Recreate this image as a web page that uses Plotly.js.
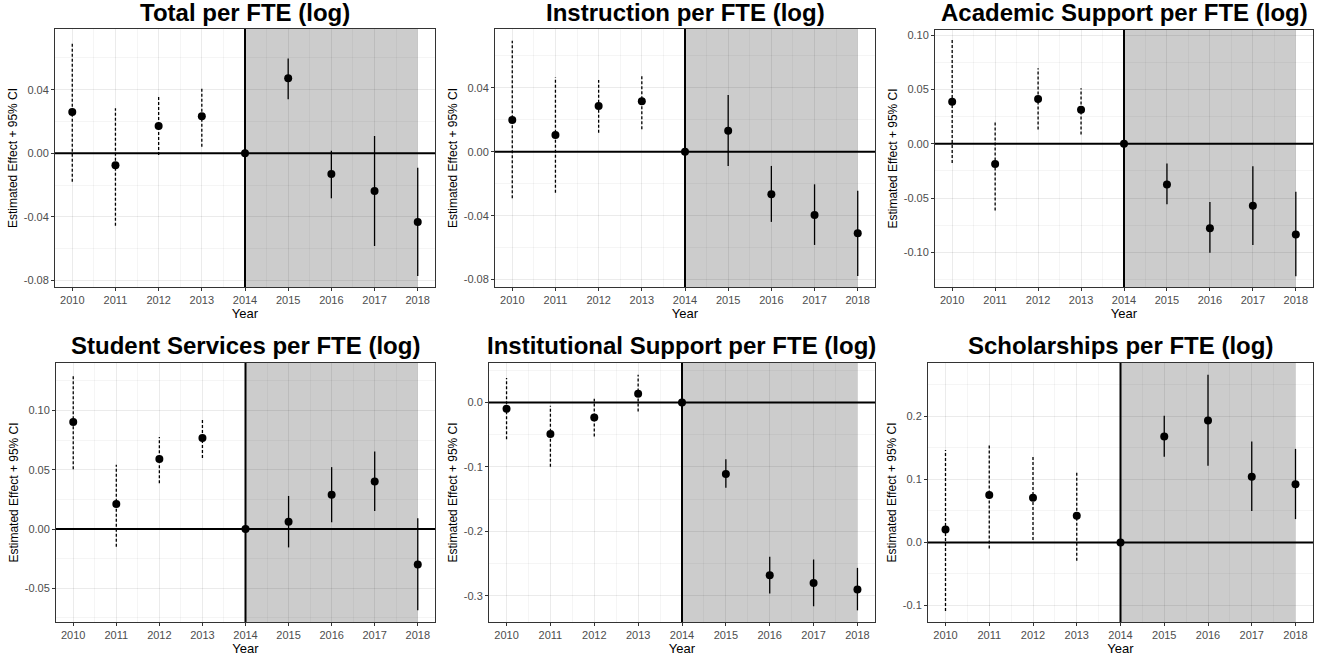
<!DOCTYPE html>
<html>
<head>
<meta charset="utf-8">
<script src="https://cdn.plot.ly/plotly-3.0.1.min.js"></script>
<style>html,body{margin:0;padding:0;background:#fff;}#chart{width:1327px;height:659px;}</style>
</head>
<body>
<div id="chart"></div>
<script>
// ---------------- data ----------------
const years = [2010, 2011, 2012, 2013, 2014, 2015, 2016, 2017, 2018];
const treatmentYear = 2014;
const lastYear = 2018;

const titles = [
  'Total per FTE (log)',
  'Instruction per FTE (log)',
  'Academic Support per FTE (log)',
  'Student Services per FTE (log)',
  'Institutional Support per FTE (log)',
  'Scholarships per FTE (log)'
];

const totalEst = [0.026, -0.0075, 0.0172, 0.0233, 0, 0.0472, -0.013, -0.0237, -0.0432];
const totalLo  = [-0.0179, -0.0455, -0.001, 0.0042, 0, 0.034, -0.0283, -0.0583, -0.0772];
const totalHi  = [0.069, 0.0283, 0.036, 0.0419, 0, 0.0597, 0.0016, 0.0109, -0.0091];

const instrEst = [0.0198, 0.0104, 0.0286, 0.0315, 0, 0.0131, -0.0266, -0.0396, -0.051];
const instrLo  = [-0.0291, -0.0256, 0.0119, 0.014, 0, -0.0089, -0.0439, -0.0583, -0.0777];
const instrHi  = [0.0694, 0.0465, 0.0448, 0.0473, 0, 0.0354, -0.0089, -0.0204, -0.0244];

const acadEst = [0.0389, -0.0185, 0.0413, 0.0315, 0, -0.0374, -0.0778, -0.0571, -0.0837];
const acadLo  = [-0.0176, -0.0615, 0.0132, 0.0086, 0, -0.0556, -0.1004, -0.0932, -0.122];
const acadHi  = [0.0959, 0.0209, 0.0697, 0.0512, 0, -0.0182, -0.0537, -0.0207, -0.0442];

const studEst = [0.0903, 0.0212, 0.059, 0.0767, 0, 0.0062, 0.0288, 0.040, -0.0299];
const studLo  = [0.0505, -0.015, 0.0387, 0.0598, 0, -0.0155, 0.0057, 0.0152, -0.0685];
const studHi  = [0.130, 0.0541, 0.0776, 0.0928, 0, 0.0279, 0.0522, 0.0654, 0.009];

const instEst = [-0.0098, -0.0487, -0.0233, 0.0135, 0, -0.1109, -0.268, -0.28, -0.2902];
const instLo  = [-0.057, -0.0995, -0.0529, -0.014, 0, -0.1322, -0.2964, -0.3162, -0.3225];
const instHi  = [0.038, -0.0051, 0.0058, 0.0431, 0, -0.088, -0.2395, -0.2436, -0.2566];

const scholEst = [0.0207, 0.0752, 0.0709, 0.0423, 0, 0.1679, 0.1933, 0.1043, 0.0922];
const scholLo  = [-0.1087, -0.0095, 0.0037, -0.0292, 0, 0.1361, 0.1218, 0.0498, 0.037];
const scholHi  = [0.1467, 0.1547, 0.1361, 0.1123, 0, 0.2008, 0.266, 0.16, 0.1484];

// y tick values and labels
const ticksA = [-0.08, -0.04, 0, 0.04];
const ticksAText = ['-0.08', '-0.04', '0.00', '0.04'];
const ticksB = [-0.10, -0.05, 0, 0.05, 0.10];
const ticksBText = ['-0.10', '-0.05', '0.00', '0.05', '0.10'];
const ticksC = [-0.05, 0, 0.05, 0.10];
const ticksCText = ['-0.05', '0.00', '0.05', '0.10'];
const ticksD = [-0.3, -0.2, -0.1, 0.0];
const ticksDText = ['-0.3', '-0.2', '-0.1', '0.0'];
const ticksE = [-0.1, 0.0, 0.1, 0.2];
const ticksEText = ['-0.1', '0.0', '0.1', '0.2'];

// ---------------- layout config ----------------
const W = 1327, H = 659;
const panels = [
  {est: totalEst, lo: totalLo, hi: totalHi, tv: ticksA, tt: ticksAText, yr: [-0.0841, 0.0782], px: [55, 435], py: [29, 287]},
  {est: instrEst, lo: instrLo, hi: instrHi, tv: ticksA, tt: ticksAText, yr: [-0.0846, 0.0767], px: [495, 875], py: [29, 287]},
  {est: acadEst, lo: acadLo, hi: acadHi, tv: ticksB, tt: ticksBText, yr: [-0.132, 0.105], px: [935, 1313], py: [30, 287]},
  {est: studEst, lo: studLo, hi: studHi, tv: ticksC, tt: ticksCText, yr: [-0.0784, 0.140], px: [56, 435], py: [363, 622]},
  {est: instEst, lo: instLo, hi: instHi, tv: ticksD, tt: ticksDText, yr: [-0.3406, 0.0613], px: [489, 875], py: [363, 622]},
  {est: scholEst, lo: scholLo, hi: scholHi, tv: ticksE, tt: ticksEText, yr: [-0.1262, 0.2846], px: [928, 1313], py: [363, 622]}
];

const FONT = 'Liberation Sans, Arial, sans-serif';
const traces = [];
const layout = {
  width: W, height: H,
  margin: {l: 0, r: 0, t: 0, b: 0},
  paper_bgcolor: '#ffffff',
  plot_bgcolor: '#ffffff',
  showlegend: false,
  font: {family: FONT, color: '#000'},
  shapes: [],
  annotations: []
};

function minorVals(tv) {
  const step = tv[1] - tv[0];
  const out = [];
  for (let i = -1; i < tv.length; i++) {
    out.push(+(tv[0] + (i + 0.5) * step).toFixed(4));
  }
  return out;
}

const yearMinor = years.slice(0, -1).map(y => y + 0.5);
const MAJOR_GRID = 'rgba(0,0,0,0.08)';
const MINOR_GRID = 'rgba(0,0,0,0.04)';

panels.forEach((p, i) => {
  const n = i + 1;
  const xa = n === 1 ? 'x' : 'x' + n;
  const ya = n === 1 ? 'y' : 'y' + n;
  const xKey = n === 1 ? 'xaxis' : 'xaxis' + n;
  const yKey = n === 1 ? 'yaxis' : 'yaxis' + n;

  // reference lines as traces (drawn under points)
  traces.push({x: [2009.6, 2018.4], y: [0, 0], xaxis: xa, yaxis: ya, mode: 'lines', type: 'scatter',
    line: {color: '#000', width: 2}, hoverinfo: 'skip', cliponaxis: true});
  traces.push({x: [treatmentYear, treatmentYear], y: p.yr, xaxis: xa, yaxis: ya, mode: 'lines', type: 'scatter',
    line: {color: '#000', width: 2}, hoverinfo: 'skip'});

  // CI segments
  const preX = [], preY = [], postX = [], postY = [];
  years.forEach((yr, k) => {
    if (yr < treatmentYear) { preX.push(yr, yr, null); preY.push(p.lo[k], p.hi[k], null); }
    else if (yr > treatmentYear) { postX.push(yr, yr, null); postY.push(p.lo[k], p.hi[k], null); }
  });
  traces.push({x: preX, y: preY, xaxis: xa, yaxis: ya, mode: 'lines', type: 'scatter',
    line: {color: '#000', width: 1.3, dash: '3px,2px'}, hoverinfo: 'skip'});
  traces.push({x: postX, y: postY, xaxis: xa, yaxis: ya, mode: 'lines', type: 'scatter',
    line: {color: '#000', width: 1.3}, hoverinfo: 'skip'});
  traces.push({x: years, y: p.est, xaxis: xa, yaxis: ya, mode: 'markers', type: 'scatter',
    marker: {color: '#000', size: 8}});

  layout[xKey] = {
    domain: [p.px[0] / W, p.px[1] / W],
    anchor: ya,
    range: [2009.6, 2018.4],
    tickmode: 'array', tickvals: years, ticktext: years.map(String),
    ticks: 'outside', ticklen: 3, tickcolor: '#333', tickwidth: 1,
    tickfont: {size: 11, color: '#4d4d4d', family: FONT},
    showgrid: true, gridcolor: MAJOR_GRID, gridwidth: 1,
    minor: {tickmode: 'array', tickvals: yearMinor, showgrid: true, gridcolor: MINOR_GRID, gridwidth: 1, ticks: ''},
    zeroline: false, showline: true, mirror: true, linecolor: '#333', linewidth: 1,
    title: {text: 'Year', font: {size: 13, color: '#000', family: FONT}, standoff: 2},
    fixedrange: true
  };
  layout[yKey] = {
    domain: [1 - p.py[1] / H, 1 - p.py[0] / H],
    anchor: xa,
    range: p.yr,
    tickmode: 'array', tickvals: p.tv, ticktext: p.tt,
    ticks: 'outside', ticklen: 3, tickcolor: '#333', tickwidth: 1,
    tickfont: {size: 11, color: '#4d4d4d', family: FONT},
    showgrid: true, gridcolor: MAJOR_GRID, gridwidth: 1,
    minor: {tickmode: 'array', tickvals: minorVals(p.tv), showgrid: true, gridcolor: MINOR_GRID, gridwidth: 1, ticks: ''},
    zeroline: false, showline: true, mirror: true, linecolor: '#333', linewidth: 1,
    title: {text: 'Estimated Effect + 95% CI', font: {size: 12, color: '#000', family: FONT}, standoff: 3},
    fixedrange: true
  };

  // post-period shading
  layout.shapes.push({type: 'rect', xref: xa, yref: ya + ' domain', x0: treatmentYear, x1: lastYear, y0: 0, y1: 1,
    fillcolor: 'rgba(0,0,0,0.2)', line: {width: 0}, layer: 'below'});

  // title
  layout.annotations.push({
    text: '<b>' + titles[i] + '</b>', xref: 'paper', yref: 'paper',
    x: (p.px[0] + p.px[1]) / 2 / W, y: 1 - (i < 3 ? 13 : 345) / H,
    xanchor: 'center', yanchor: 'middle', showarrow: false,
    font: {size: 24, color: '#000', family: FONT}
  });
});

Plotly.newPlot('chart', traces, layout, {displayModeBar: false, staticPlot: true});
</script>
</body>
</html>
